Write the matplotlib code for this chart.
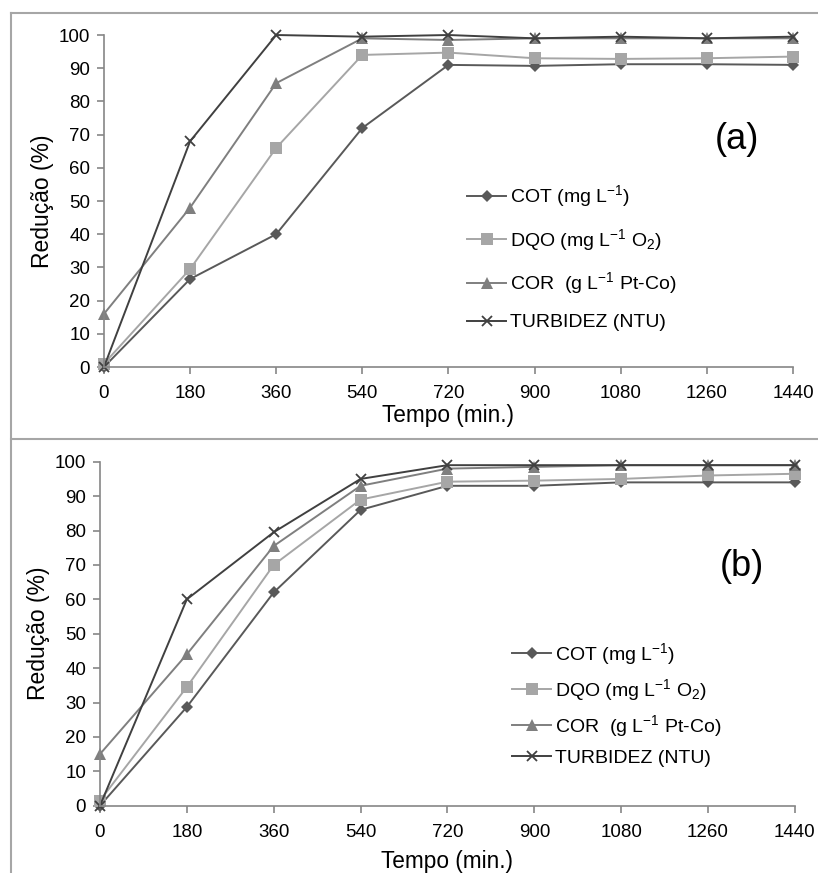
#!/usr/bin/env python
# -*- coding: UTF-8 -*-

import matplotlib
matplotlib.use('agg')
import matplotlib.pyplot as plt
from matplotlib.lines import Line2D

plt.rcParams['font.family'] = ['Liberation Sans', 'DejaVu Sans']
plt.rcParams['mathtext.fontset'] = 'custom'
plt.rcParams['mathtext.rm'] = 'Liberation Sans'
plt.rcParams['mathtext.it'] = 'Liberation Sans:italic'
plt.rcParams['mathtext.default'] = 'regular'

# -- dados (tempo em min., reducao em %)
tempo = [0, 180, 360, 540, 720, 900, 1080, 1260, 1440]

cot_a = [0, 26.5, 40, 72, 91, 90.7, 91.2, 91.2, 91]
dqo_a = [1, 29.5, 66, 94, 94.7, 93, 92.8, 93, 93.5]
cor_a = [16, 48, 85.5, 99, 98.5, 99, 99, 99, 99]
turb_a = [0, 68, 100, 99.5, 100, 99, 99.5, 99, 99.5]

cot_b = [0, 28.7, 62, 86, 93, 93, 94, 94, 94]
dqo_b = [1.5, 34.5, 70, 89, 94.2, 94.5, 95, 96, 96.5]
cor_b = [15, 44, 75.5, 93, 98, 98.5, 99, 99, 99]
turb_b = [0, 60, 79.5, 95, 99, 99, 99, 99, 99]

labels = [r'COT (mg L$^{-1}$)', r'DQO (mg L$^{-1}$ O$_2$)',
          r'COR  (g L$^{-1}$ Pt-Co)', 'TURBIDEZ (NTU)']
xticks = tempo
yticks = list(range(0, 101, 10))

cores = ['#595959', '#a6a6a6', '#7f7f7f', '#404040']
marcadores = ['D', 's', '^', 'x']
tamanhos = [6.5, 8, 8, 7.5]
eixo_cor = '#868686'


def draw_panel(ax, series, letra, letra_pos, leg_anchor, leg_spacing, xlabel_y):
    """desenha um painel"""
    for ys, c, m, ms, lab in zip(series, cores, marcadores, tamanhos, labels):
        ax.plot(tempo, ys, color=c, marker=m, markersize=ms, lw=1.4,
                markeredgewidth=1.3 if m == 'x' else 0, label=lab,
                clip_on=False)
    ax.set_xlim(0, 1440)
    ax.set_ylim(0, 100)
    ax.set_xticks(xticks)
    ax.set_yticks(yticks)
    ax.tick_params(labelsize=13.5, length=5, color=eixo_cor, width=1.2)
    ax.tick_params(axis='x', pad=8)
    ax.tick_params(axis='y', pad=5)
    for s in ['top', 'right']:
        ax.spines[s].set_visible(False)
    for s in ['left', 'bottom']:
        ax.spines[s].set_color(eixo_cor)
        ax.spines[s].set_linewidth(1.2)
    ax.set_ylabel('Redução (%)', fontsize=16.5)
    ax.yaxis.set_label_coords(-0.072, 0.5)
    ax.set_xlabel('Tempo (min.)', fontsize=16.3)
    ax.xaxis.label.set_va('center')
    ax.xaxis.set_label_coords(0.5, xlabel_y)
    ax.text(letra_pos[0], letra_pos[1], letra, fontsize=26, ha='center',
            va='center', transform=ax.transAxes)
    ax.legend(loc='center left', bbox_to_anchor=leg_anchor, frameon=False,
              fontsize=14, handlelength=2.0, handletextpad=0.2,
              borderpad=0, borderaxespad=0, labelspacing=leg_spacing)


fig = plt.figure(figsize=(8.18, 8.73), dpi=100)
ax1 = fig.add_axes([0.1271, 0.5796, 0.8423, 0.3803])
ax2 = fig.add_axes([0.1222, 0.0771, 0.8496, 0.3940])

draw_panel(ax1, [cot_a, dqo_a, cor_a, turb_a], '(a)', (0.919, 0.684),
           (0.527, 0.33), 0.9, -0.145)
draw_panel(ax2, [cot_b, dqo_b, cor_b, turb_b], '(b)', (0.924, 0.694),
           (0.593, 0.296), 0.52, -0.162)

# -- molduras dos paineis
xl = 11 / 818.0
yt = 1 - 13 / 873.0
ym = 1 - 439 / 873.0
for xs, ys in [([xl, xl], [0, yt]), ([xl, 1], [yt, yt]), ([xl, 1], [ym, ym])]:
    fig.add_artist(Line2D(xs, ys, color='#a6a6a6', lw=1.5,
                          transform=fig.transFigure))

plt.savefig('out.png', dpi=100)
plt.close()
